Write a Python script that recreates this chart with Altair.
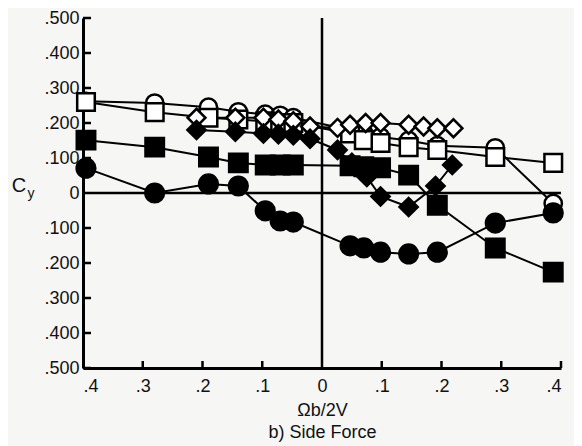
import altair as alt
import pandas as pd

# ---- data ----
x_main = [-0.395, -0.28, -0.19, -0.14, -0.095, -0.07, -0.048, 0.047, 0.07, 0.098, 0.145, 0.193, 0.29, 0.387]
y_open_circle = [0.262, 0.257, 0.245, 0.232, 0.225, 0.222, 0.215, 0.18, 0.17, 0.16, 0.15, 0.135, 0.129, -0.03]
y_open_square = [0.26, 0.231, 0.215, 0.21, 0.205, 0.2, 0.2, 0.17, 0.151, 0.143, 0.131, 0.123, 0.103, 0.086]
y_filled_square = [0.151, 0.131, 0.103, 0.086, 0.08, 0.08, 0.08, 0.078, 0.075, 0.072, 0.051, -0.035, -0.157, -0.226]
y_filled_circle = [0.071, 0.0, 0.026, 0.02, -0.051, -0.08, -0.083, -0.151, -0.157, -0.169, -0.174, -0.169, -0.086, -0.057]

x_diamond_open = [-0.21, -0.145, -0.098, -0.073, -0.048, -0.02, 0.026, 0.047, 0.073, 0.098, 0.145, 0.17, 0.193, 0.22]
y_diamond_open = [0.215, 0.215, 0.215, 0.21, 0.205, 0.19, 0.186, 0.195, 0.2, 0.2, 0.195, 0.19, 0.185, 0.185]
x_diamond_filled = [-0.21, -0.145, -0.098, -0.073, -0.048, -0.02, 0.026, 0.05, 0.075, 0.098, 0.145, 0.19, 0.218]
y_diamond_filled = [0.18, 0.175, 0.17, 0.168, 0.165, 0.155, 0.123, 0.086, 0.046, -0.01, -0.04, 0.02, 0.08]

series_names = ["open circle", "open square", "open diamond", "filled diamond", "filled square", "filled circle"]

y_ticks = [-0.5, -0.4, -0.3, -0.2, -0.1, 0.1, 0.2, 0.3, 0.4, 0.5]
y_labels = [-0.5, -0.4, -0.3, -0.2, -0.1, 0, 0.1, 0.2, 0.3, 0.4, 0.5]
x_ticks = [-0.3, -0.2, -0.1, 0.1, 0.2, 0.3, 0.4]
x_labels = [-0.4, -0.3, -0.2, -0.1, 0, 0.1, 0.2, 0.3, 0.4]
x_title = ["Ωb/2V", "b) Side Force"]
y_title_main = ["C"]
y_title_sub = ["y"]

rows = []
def add(name, xs, ys):
    for xv, yv in zip(xs, ys):
        rows.append({"series": name, "x": xv, "y": yv})

add("open circle", x_main, y_open_circle)
add("open square", x_main, y_open_square)
add("open diamond", x_diamond_open, y_diamond_open)
add("filled diamond", x_diamond_filled, y_diamond_filled)
add("filled square", x_main, y_filled_square)
add("filled circle", x_main, y_filled_circle)
df = pd.DataFrame(rows)

W, H = 478, 350
FONT = "Liberation Sans"

xscale = alt.Scale(domain=[-0.4, 0.4], nice=False, zero=False)
yscale = alt.Scale(domain=[-0.5, 0.5], nice=False, zero=False)

x_axis = alt.Axis(
    values=x_labels, labelExpr="datum.value == 0 ? '0' : replace(format(abs(datum.value), '.1f'), '0.', '.')",
    ticks=False, tickSize=0, grid=False, domainColor="black", domainWidth=3,
    labelFont=FONT, labelFontSize=18, labelColor="#111", labelPadding=9, labelOverlap=False,
    title=x_title, titleFont=FONT, titleFontSize=18, titleFontWeight="normal", titleColor="#111",
    titlePadding=6, titleLineHeight=22)
y_axis = alt.Axis(
    values=y_labels, labelExpr="datum.value == 0 ? '0' : replace(format(abs(datum.value), '.3f'), '0.', '.')",
    ticks=False, tickSize=0, grid=False, domainColor="black", domainWidth=3,
    labelFont=FONT, labelFontSize=18, labelColor="#111", labelPadding=4, labelOverlap=False,
    labelBound=False, labelFlush=False, title=None)

def X(field="x"):
    return alt.X(f"{field}:Q", scale=xscale, axis=x_axis)

def Y(field="y"):
    return alt.Y(f"{field}:Q", scale=yscale, axis=y_axis)

base = alt.Chart(df)

lines = base.mark_line(color="black", strokeWidth=2).encode(
    x=X(), y=Y(), detail="series:N")

points = base.mark_point(opacity=1, fillOpacity=1, stroke="black", strokeWidth=2.5).encode(
    x=X(), y=Y(),
    shape=alt.Shape("series:N", scale=alt.Scale(domain=series_names,
        range=["circle", "square", "diamond", "diamond", "square", "circle"]), legend=None),
    fill=alt.Fill("series:N", scale=alt.Scale(domain=series_names,
        range=["white", "white", "white", "black", "black", "black"]), legend=None),
    size=alt.Size("series:N", scale=alt.Scale(domain=series_names,
        range=[300, 350, 600, 640, 420, 370]), legend=None),
)

zero_v = alt.Chart(pd.DataFrame({"x": [0.0]})).mark_rule(color="black", strokeWidth=2.5).encode(x=X())
zero_h = alt.Chart(pd.DataFrame({"y": [0.0]})).mark_rule(color="black", strokeWidth=2.5).encode(y=Y())

yt = alt.Chart(pd.DataFrame({"y": y_ticks})).mark_rule(color="black", strokeWidth=2.5).encode(
    y=Y(), x=alt.value(0), x2=alt.value(8))
xt = alt.Chart(pd.DataFrame({"x": x_ticks})).mark_rule(color="black", strokeWidth=2.5).encode(
    x=X(), y=alt.value(H), y2=alt.value(H - 7))

c_text = alt.Chart(pd.DataFrame({"t": y_title_main})).mark_text(
    font=FONT, fontSize=20, color="#111", baseline="middle", align="center").encode(
    text="t:N", x=alt.value(-64), y=alt.value(168))
y_text = alt.Chart(pd.DataFrame({"t": y_title_sub})).mark_text(
    font=FONT, fontSize=14, color="#111", baseline="middle", align="center").encode(
    text="t:N", x=alt.value(-52), y=alt.value(176))

chart = alt.layer(lines, zero_v, zero_h, yt, xt, points, c_text, y_text).properties(
    width=W, height=H,
    padding={"left": 75, "top": 10, "right": 13, "bottom": 78},
    autosize="none",
    background="#f6f6f4",
).configure_view(stroke=None)

chart.save("out.html", embed_options={"renderer": "svg", "actions": False})
